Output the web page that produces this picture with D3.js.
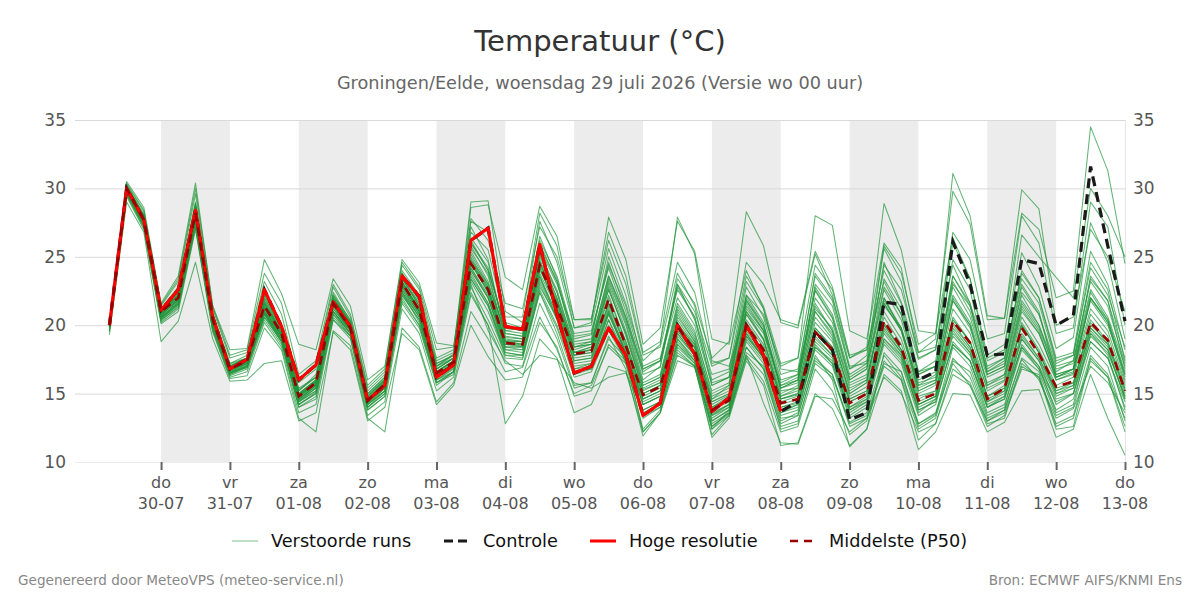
<!DOCTYPE html>
<html><head><meta charset="utf-8">
<script src="https://cdn.jsdelivr.net/npm/d3@7"></script>
<style>body{margin:0;background:#fff;} svg{display:block;font-family:"DejaVu Sans",sans-serif;}</style>
</head><body><svg id="chart" width="1200" height="600"></svg>
<script>
// ---------- DATA ----------
const firstStep = Date.UTC(2026, 6, 29, 6);   // 29-07 06 UTC, 6-hourly steps
const stepHours = 6;
const dayNames  = ["do","vr","za","zo","ma","di","wo","do","vr","za","zo","ma","di","wo","do"];
const dayDates  = ["30-07","31-07","01-08","02-08","03-08","04-08","05-08","06-08","07-08","08-08","09-08","10-08","11-08","12-08","13-08"];
const yTickValues = [10, 15, 20, 25, 30, 35];
const shadedDayIdx = [0, 2, 4, 6, 8, 10, 12];

const hres = [20.0,30.0,27.7, 21.1,22.6,28.4,20.6, 16.8,17.5,22.6,19.9, 16.0,17.1,21.7,19.9, 14.5,15.6,23.6,22.1,
  16.2,17.1,26.2,27.1, 19.9,19.7,25.9,20.8, 16.5,17.0,19.8,17.8, 13.4,14.3,20.0,17.9, 13.7,14.7,20.0,17.8, 13.7];

const controle = [20.0,30.0,27.7, 21.1,22.6,28.4,20.6, 16.8,17.5,22.6,19.9, 16.0,17.1,21.7,19.9, 14.5,15.6,23.6,22.1,
  16.2,17.1,26.2,27.1, 19.9,19.7,25.9,20.8, 16.5,17.0,19.8,17.8, 13.4,14.3,20.0,17.9, 13.7,14.7,20.0,17.8, 13.7,
  14.4,19.5,18.2, 13.1,13.6,21.7,21.5, 16.0,16.6,26.1,23.0, 17.8,17.9,24.8,24.5, 20.0,20.7,31.6,25.8, 20.3];

const p50 = [20.0,30.0,27.7, 21.0,22.0,28.2,20.4, 16.8,17.4,21.4,19.4, 14.8,15.8,21.6,19.8, 14.5,15.7,23.1,21.1,
  16.5,17.3,24.5,22.6, 18.7,18.6,24.4,21.4, 17.9,18.1,21.9,18.5, 14.9,15.5,19.9,18.2, 13.8,14.5,20.0,18.2,
  14.3,14.6,19.5,18.2, 14.3,15.0,20.3,18.4, 14.5,15.0,20.3,18.7, 14.6,15.4,19.8,17.9, 15.5,15.9,20.2,18.9, 15.2];

const ensembleRuns = [
 [20.0,30.2,28.0, 21.2,22.8,29.0,20.8, 17.2,17.8,22.5,20.1, 15.2,16.4,22.4,20.3, 15.0,16.2,23.8,21.8, 17.0,17.9,26.8,25.5, 20.2,19.8,26.5,23.4, 19.0,19.3,24.6,21.0, 16.4,16.9,23.0,20.4, 15.8,16.2,22.8,20.6, 16.0,16.4,22.5,20.5, 16.2,17.0,24.6,21.7, 17.5,18.2,26.0,23.4, 17.8,18.6,25.3,22.8, 18.3,19.1,27.5,24.6, 19.0],
 [19.7,29.6,27.2, 20.4,21.3,27.4,19.8, 16.3,16.8,20.4,18.6, 14.0,14.6,20.6,19.2, 13.8,14.8,21.6,19.8, 15.6,16.6,22.8,20.4, 17.6,17.5,22.4,19.8, 16.2,16.6,19.6,17.4, 13.6,14.2,18.6,17.2, 12.6,13.5,18.4,16.8, 12.8,13.4,17.6,16.4, 12.9,13.6,17.8,16.2, 12.8,13.5,17.2,15.6, 13.0,13.8,17.5,16.0, 13.2,13.9,17.0,15.8, 13.6],
 [20.1,30.1,27.9, 21.0,22.4,28.6,20.6, 16.9,17.5,21.8,19.6, 14.9,15.9,21.8,20.0, 14.6,15.9,23.5,21.4, 16.8,17.6,25.6,23.8, 19.1,19.0,25.2,22.0, 18.2,18.6,22.8,19.2, 15.3,15.8,20.6,18.8, 14.2,14.9,20.8,18.9, 14.8,15.2,20.2,18.8, 14.8,15.5,21.0,19.0, 15.0,15.6,21.2,19.4, 15.2,15.9,20.6,18.6, 16.0,16.5,21.2,19.6, 15.8],
 [19.5,29.4,27.0, 20.1,21.0,27.0,19.5, 16.1,16.3,19.8,18.2, 13.2,12.2,19.6,18.5, 13.2,12.2,19.8,18.4, 14.4,15.8,21.0,19.0, 16.6,16.9,20.6,18.2, 15.0,15.6,18.4,17.2, 12.4,13.8,17.8,17.0, 12.0,13.4,17.6,15.9, 12.2,12.6,16.8,15.2, 12.0,13.0,17.4,16.0, 11.6,12.8,16.4,15.6, 12.6,13.4,16.8,16.4, 12.6,13.2,17.4,16.2, 12.2],
 [20.2,30.3,28.3, 21.4,23.2,29.6,21.2, 17.6,18.0,23.2,20.8, 15.8,16.8,22.8,20.6, 15.4,16.6,24.4,22.6, 17.6,18.2,29.0,29.1, 21.0,20.2,23.6,20.4, 16.8,17.2,20.8,18.0, 14.2,14.8,19.6,18.0, 13.5,14.2,19.2,17.6, 14.0,14.3,18.4,17.4, 13.6,14.4,19.0,17.6, 13.8,14.4,18.6,17.4, 14.0,14.8,18.4,16.8, 14.4,15.0,18.8,17.6, 14.4],
 [19.9,29.8,27.5, 20.8,21.8,28.0,20.2, 16.7,17.3,21.0,19.0, 14.6,15.6,21.4,19.6, 14.4,15.4,22.8,20.8, 16.2,17.0,24.8,23.0, 19.6,19.8,27.6,24.6, 19.8,20.2,27.9,24.8, 18.6,19.8,27.6,25.4, 19.0,18.6,24.0,21.2, 16.8,16.6,21.6,19.6, 15.6,16.2,21.4,19.8, 15.8,16.2,22.8,20.6, 16.4,17.0,22.2,20.0, 16.8,17.2,22.6,20.6, 17.0],
 [20.0,29.9,27.6, 20.6,21.6,27.8,20.0, 16.5,17.0,20.8,18.8, 14.4,15.2,21.0,19.4, 14.2,15.2,22.4,20.2, 16.0,16.6,22.4,20.0, 12.8,14.8,19.0,17.6, 13.6,14.2,17.0,16.6, 12.2,13.6,17.4,16.9, 12.8,13.6,18.0,17.0, 13.0,13.6,18.6,17.2, 13.4,14.2,19.0,17.8, 13.6,14.6,19.4,18.0, 14.0,14.6,19.0,17.4, 14.2,15.0,19.8,18.4, 14.6],
 [20.1,30.0,27.8, 21.0,22.2,28.4,20.4, 16.8,17.4,21.6,19.4, 14.8,15.8,21.8,20.0, 14.6,15.8,23.0,21.2, 16.6,17.4,25.0,22.8, 18.8,18.6,24.6,21.6, 18.0,18.2,22.2,18.8, 15.0,15.6,20.4,18.6, 14.0,14.8,21.2,19.6, 15.4,16.0,23.0,21.4, 16.8,17.8,25.8,23.8, 18.6,19.4,29.8,27.4, 20.4,20.5,28.2,27.0, 22.0,22.5,34.5,31.3, 24.5],
 [19.8,29.7,27.4, 20.5,21.5,27.6,20.0, 16.6,17.1,21.2,19.2, 14.5,15.4,21.2,19.6, 14.3,15.4,22.6,20.6, 16.4,17.2,24.2,22.0, 18.4,18.4,23.8,21.2, 17.6,17.8,21.4,18.4, 14.6,15.2,19.8,18.4, 14.6,15.6,22.2,20.8, 17.0,17.6,28.0,27.3, 19.6,19.0,26.0,24.2, 18.0,18.4,24.4,21.6, 16.4,17.0,22.4,20.8, 16.6,17.4,23.4,21.8, 17.6],
 [20.0,30.0,27.6, 20.9,22.0,28.2,20.5, 16.9,17.4,21.4,19.4, 14.7,15.7,21.6,19.8, 14.6,15.6,23.2,21.0, 16.6,17.4,25.2,23.0, 19.4,19.2,26.0,23.2, 18.8,19.0,25.0,21.6, 17.4,18.6,27.9,25.2, 17.4,17.0,21.0,19.0, 14.6,15.0,19.8,18.4, 14.4,15.0,20.0,18.2, 14.2,14.8,19.6,18.0, 14.4,15.0,19.2,17.6, 15.0,15.4,19.6,18.2, 14.8],
 [19.9,29.9,27.7, 20.7,21.9,28.0,20.4, 16.7,17.2,21.0,19.2, 14.6,15.5,21.5,19.8, 14.4,15.6,22.9,21.0, 16.4,17.0,24.0,22.0, 18.2,18.2,24.0,21.8, 18.4,18.8,23.6,20.6, 16.0,17.0,23.4,21.6, 17.6,18.8,28.3,25.8, 20.2,19.8,25.2,22.2, 17.0,17.2,22.0,19.6, 15.2,15.8,20.4,18.8, 15.4,16.0,21.0,19.4, 16.2,16.8,21.8,20.0, 16.4],
 [19.6,29.5,27.1, 20.2,21.2,27.2,19.6, 16.2,16.6,20.2,18.4, 13.6,14.2,20.4,19.0, 13.4,14.4,21.2,19.4, 15.2,16.2,22.2,20.0, 17.2,17.0,21.6,19.0, 15.4,15.8,19.0,17.6, 12.2,13.6,18.0,17.0, 11.8,13.2,17.4,15.6, 11.2,11.4,15.0,13.9, 11.2,12.4,16.4,15.2, 10.9,12.2,15.0,14.9, 12.2,12.9,15.2,15.3, 11.8,12.4,16.4,13.2, 10.5],
 [20.0,30.1,28.0, 21.1,22.6,28.8,20.8, 17.0,17.6,22.0,19.8, 15.0,16.0,22.0,20.2, 14.8,16.0,23.6,21.6, 17.2,17.8,28.6,28.8, 23.5,22.6,28.7,26.5, 20.4,20.5,26.2,23.0, 17.8,18.4,23.8,21.4, 16.0,16.6,22.2,20.2, 15.2,15.4,21.0,19.4, 15.0,15.8,22.0,19.8, 15.4,16.0,21.8,20.0, 15.6,16.4,21.4,19.6, 16.0,16.4,22.0,20.2, 16.2],
 [19.9,29.8,27.5, 20.8,21.8,27.9,20.2, 16.6,17.2,21.1,19.2, 14.6,15.6,21.2,19.6, 14.2,15.4,22.8,20.8, 16.2,17.0,24.0,22.0, 18.4,18.2,23.6,20.8, 17.4,17.6,21.2,18.0, 14.6,15.2,19.2,17.8, 13.6,14.2,19.6,17.8, 14.0,14.4,19.0,17.8, 14.0,14.8,19.8,18.0, 14.2,14.8,19.8,18.2, 14.4,15.2,19.4,17.6, 15.2,15.6,19.8,18.6, 15.0],
 [20.2,30.4,28.4, 21.5,23.4,30.0,21.4, 17.8,18.2,23.8,21.6, 16.4,17.4,23.0,20.8, 15.6,16.8,24.6,22.8, 18.2,18.4,27.8,26.2, 21.6,21.2,27.2,25.0, 20.4,20.4,26.8,23.6, 18.0,18.8,24.6,22.4, 17.2,17.6,23.6,21.4, 17.2,17.6,24.4,22.6, 17.6,18.2,24.0,21.6, 16.6,17.0,23.2,21.0, 16.6,17.4,24.0,22.0, 17.6,18.0,25.4,23.0, 18.2],
 [19.8,29.7,27.3, 20.5,21.6,27.6,20.0, 16.4,17.0,20.6,18.8, 14.2,15.0,20.8,19.2, 14.0,15.0,22.0,20.0, 15.8,16.4,23.0,19.6, 17.4,16.4,17.8,17.5, 15.8,15.4,16.2,16.5, 13.8,14.4,18.8,17.4, 13.0,13.8,18.8,17.2, 13.4,13.8,18.2,17.0, 13.2,14.0,18.6,17.2, 13.4,14.2,18.8,17.4, 13.6,14.2,18.2,16.8, 13.8,14.6,18.8,17.6, 14.0],
 [20.3,30.5,28.6, 21.6,23.6,30.4,21.4, 18.2,18.3,24.8,22.3, 18.6,18.2,23.4,21.4, 16.0,17.0,24.8,23.1, 18.7,18.5,26.2,24.0, 20.0,19.6,25.6,23.0, 19.4,19.6,24.2,20.6, 16.8,17.4,22.0,20.0, 15.6,16.2,21.6,19.6, 15.6,16.0,21.2,19.8, 15.8,16.4,22.6,20.4, 16.0,16.6,22.2,20.2, 16.2,16.8,21.8,20.0, 16.4,16.8,22.4,20.4, 16.6],
 [19.3,29.0,26.8, 18.8,20.3,24.6,19.0, 15.9,16.0,17.2,17.4, 13.0,13.6,19.5,18.2, 13.0,14.0,19.4,18.2, 14.2,15.6,20.0,17.7, 16.0,16.2,20.2,18.4, 14.8,15.2,18.6,17.4, 13.2,14.0,18.2,17.0, 12.4,13.4,17.8,16.4, 12.6,13.0,17.2,16.2, 12.8,13.4,17.2,16.6, 12.8,13.6,17.6,16.2, 13.0,13.6,17.0,16.2, 12.8,13.4,17.8,16.4, 13.2],
 [20.0,30.0,27.9, 21.0,22.2,28.4,20.4, 16.8,17.4,21.6,19.6, 14.9,15.9,21.6,19.8, 14.6,15.8,23.4,21.4, 16.8,17.6,25.8,23.6, 19.0,18.8,24.4,21.4, 17.8,18.0,21.6,18.6, 14.8,15.4,20.0,18.6, 14.4,15.0,21.0,19.4, 15.0,15.6,22.8,20.8, 16.4,17.2,24.4,22.6, 18.0,19.0,31.1,28.0, 20.7,20.5,29.9,28.5, 20.0,20.6,27.0,25.0, 21.0],
 [20.1,30.2,28.1, 21.2,22.6,28.8,20.8, 17.2,17.6,22.4,20.0, 15.4,16.2,22.2,20.4, 15.2,16.4,24.0,22.2, 17.4,18.0,27.6,26.8, 20.6,20.6,28.2,25.8, 19.8,20.0,25.6,22.2, 17.0,17.6,22.8,20.6, 16.4,16.8,23.2,21.2, 16.4,16.8,23.6,21.8, 16.8,17.4,25.6,23.2, 17.6,18.2,26.8,24.8, 19.0,19.4,28.0,26.0, 19.4,19.8,29.0,27.2, 20.0],
 [19.7,29.6,27.3, 20.3,21.4,27.2,19.7, 16.4,16.9,20.6,18.8, 14.0,14.8,20.4,19.2, 13.8,14.8,21.8,20.0, 15.8,16.6,23.4,21.4, 17.8,17.6,22.8,20.6, 16.8,17.0,20.4,17.8, 14.2,14.8,19.0,17.6, 13.2,14.0,19.0,17.4, 13.6,14.0,18.4,17.2, 13.8,14.4,18.8,17.4, 13.8,14.4,18.6,17.4, 14.0,14.6,18.4,17.0, 14.6,15.0,19.2,18.0, 14.8],
 [20.0,30.0,27.8, 20.9,22.1,28.3,20.4, 16.8,17.3,21.4,19.4, 14.8,15.8,21.6,19.8, 14.5,15.6,23.0,21.0, 16.4,17.2,24.6,22.4, 18.6,18.6,24.8,22.0, 18.0,18.4,23.0,19.6, 15.6,16.2,21.4,19.4, 15.2,15.8,21.8,20.0, 15.8,16.4,23.8,22.0, 17.6,18.4,28.9,25.5, 19.6,19.4,26.4,23.4, 17.4,18.0,23.4,21.6, 17.2,17.8,24.2,22.2, 18.4],
 [19.9,29.9,27.6, 20.7,21.9,28.0,20.3, 16.7,17.2,21.2,19.3, 14.6,15.6,21.4,19.6, 14.4,15.6,23.0,21.0, 16.4,17.2,24.8,22.6, 18.6,18.4,24.2,21.2, 17.2,17.4,21.0,18.2, 14.2,14.8,19.4,17.8, 13.4,14.0,19.4,17.6, 13.2,13.4,17.8,16.0, 11.1,12.4,18.0,16.6, 12.6,13.4,18.4,17.0, 13.4,14.0,18.6,17.0, 13.6,14.2,19.4,17.8, 13.8],
 [20.1,30.1,27.9, 21.1,22.4,28.6,20.6, 17.0,17.5,21.8,19.8, 15.0,16.0,22.0,20.2, 14.8,16.0,23.4,21.6, 16.8,17.6,26.0,24.2, 19.6,19.4,25.8,23.2, 18.6,18.8,23.6,20.4, 16.6,17.4,23.0,21.0, 17.0,17.6,24.6,23.0, 20.4,20.0,25.4,22.8, 17.8,18.2,23.2,20.8, 16.4,17.0,23.0,21.4, 17.0,17.6,23.8,22.0, 17.4,17.8,24.6,22.6, 17.4],
 [19.8,29.7,27.4, 20.6,21.7,27.8,20.1, 16.5,17.1,20.9,19.0, 14.4,15.4,21.0,19.4, 14.2,15.2,22.2,20.4, 16.0,16.8,23.8,21.6, 18.0,17.8,23.0,20.4, 16.4,16.8,20.0,17.4, 13.4,14.0,18.4,17.2, 12.6,13.6,17.8,14.3, 11.4,11.3,14.8,14.6, 12.2,13.2,17.0,16.0, 12.4,13.2,17.4,16.6, 13.2,13.8,17.6,16.6, 13.4,14.0,18.4,17.0, 13.0],
 [20.0,30.1,27.9, 21.0,22.3,28.5,20.5, 16.9,17.5,21.7,19.6, 14.9,15.9,21.8,20.0, 14.7,15.9,23.2,21.2, 16.6,17.4,25.4,23.2, 18.8,18.8,24.6,21.8, 17.8,18.2,22.6,19.4, 15.2,15.8,20.8,18.8, 14.4,15.0,20.4,18.6, 14.6,15.0,20.6,19.0, 15.2,16.0,21.6,19.6, 15.6,16.4,23.6,21.6, 17.6,18.2,26.6,25.0, 23.5,22.0,30.0,28.0, 25.0],
 [19.8,29.6,27.2, 20.4,21.5,27.4,19.8, 16.5,16.9,20.8,18.8, 14.2,15.0,20.8,19.4, 14.0,15.0,22.2,20.4, 15.8,16.6,23.2,21.0, 17.8,17.8,22.6,20.0, 16.6,16.8,20.4,17.2, 13.8,14.4,18.6,17.4, 13.0,13.8,18.4,16.8, 12.4,12.8,17.4,16.4, 12.6,13.2,16.2,15.0, 12.2,12.8,16.8,15.8, 12.8,13.2,17.2,16.2, 12.4,12.6,17.6,16.2, 12.6],
 [20.1,30.2,28.0, 21.1,22.5,28.7,20.6, 17.0,17.6,22.2,19.8, 15.0,16.0,22.0,20.2, 14.9,16.1,23.8,21.8, 17.0,17.8,26.4,24.6, 19.4,19.2,25.2,22.6, 18.4,18.6,23.4,20.2, 15.8,16.4,21.6,19.6, 15.0,15.6,21.8,19.8, 15.4,16.0,22.0,20.2, 16.0,16.8,23.4,21.2, 16.6,17.4,24.8,22.6, 16.8,17.6,23.0,21.0, 16.2,16.8,23.6,21.8, 16.8],
 [19.9,29.8,27.5, 20.6,21.7,27.7,20.1, 16.6,17.0,20.9,19.0, 14.4,15.2,21.0,19.6, 14.2,15.2,22.4,20.6, 16.2,17.0,23.4,21.4, 18.0,17.8,22.4,19.4, 15.6,15.8,19.2,16.8, 11.9,13.6,19.0,17.4, 12.4,13.8,19.4,17.6, 13.6,14.2,19.2,17.8, 14.0,14.6,19.6,18.0, 14.2,14.8,20.0,18.4, 14.6,15.2,20.0,18.0, 15.0,15.6,20.4,18.8, 15.4],
 [20.0,30.0,27.8, 21.0,22.2,28.3,20.5, 16.9,17.5,21.6,19.6, 14.9,15.9,21.8,20.0, 14.6,15.8,23.2,21.2, 16.6,17.4,24.6,22.8, 18.8,18.6,24.6,21.6, 18.0,18.2,22.0,18.8, 15.0,15.6,20.2,18.4, 14.0,14.6,20.2,18.4, 14.6,14.9,19.8,18.4, 14.6,15.2,20.6,18.6, 14.8,15.2,20.6,18.8, 14.8,15.6,20.2,18.2, 15.6,16.2,20.8,19.2, 15.6],
 [20.1,30.1,27.8, 21.0,22.4,28.4,20.5, 17.0,17.6,22.0,19.8, 15.2,16.2,22.0,20.0, 14.8,16.0,23.4,21.4, 17.0,17.6,27.2,24.8, 19.2,19.0,25.4,22.4, 18.0,18.4,23.2,20.0, 15.6,16.2,21.2,19.2, 14.6,15.2,20.8,19.0, 14.8,15.4,21.0,19.2, 15.0,15.8,21.6,19.6, 15.2,15.8,21.8,19.8, 15.6,16.2,21.2,19.4, 16.2,16.6,22.0,20.2, 16.0],
 [19.9,29.9,27.6, 20.8,21.9,28.1,20.3, 16.7,17.2,21.0,19.2, 14.5,15.4,21.4,19.6, 14.3,15.5,22.6,20.8, 16.3,17.2,24.2,22.2, 18.4,18.4,23.4,20.8, 17.4,17.6,21.0,17.8, 14.4,15.0,19.4,17.8, 13.4,14.2,19.2,17.6, 13.8,14.2,18.8,17.6, 13.8,14.6,19.4,17.8, 14.0,14.6,19.2,17.8, 14.2,14.8,19.0,17.4, 14.8,15.4,19.4,18.2, 14.6],
 [20.0,30.0,27.7, 20.9,22.0,28.2,20.4, 16.8,17.3,21.5,19.5, 14.8,15.7,21.6,19.8, 14.5,15.6,23.1,21.1, 16.5,17.3,24.4,22.6, 18.9,18.8,25.0,22.4, 18.4,18.6,22.6,19.4, 15.4,16.0,21.0,19.0, 14.8,15.4,21.4,19.6, 15.6,16.2,22.6,20.6, 16.0,16.8,22.8,20.8, 16.4,17.0,23.6,21.4, 16.6,17.2,22.8,20.8, 17.0,17.4,23.2,21.4, 17.2],
 [19.7,29.7,27.4, 20.5,21.6,27.8,20.1, 16.5,17.0,20.8,19.0, 14.2,15.1,21.0,19.4, 14.0,15.2,22.4,20.6, 16.0,16.9,23.6,21.6, 18.2,18.0,23.2,20.6, 17.0,17.2,20.8,18.0, 14.6,15.2,19.6,18.0, 13.8,14.4,19.8,18.0, 14.2,14.6,19.6,18.0, 14.4,15.0,20.0,18.2, 14.4,15.0,20.2,18.4, 14.8,15.4,20.0,18.0, 15.2,15.8,20.2,18.6, 15.2],
 [20.1,30.2,28.0, 21.2,22.7,28.9,20.7, 17.1,17.6,22.2,20.0, 15.3,16.2,22.2,20.2, 15.0,16.2,23.8,21.8, 17.2,17.8,26.0,24.0, 19.8,19.6,26.2,23.6, 19.2,19.4,24.4,21.4, 16.8,17.4,22.6,20.6, 15.6,16.2,22.0,20.0, 15.4,15.8,21.4,19.6, 15.4,16.0,21.8,19.8, 15.6,16.0,22.0,20.0, 15.8,16.4,21.6,19.8, 16.4,16.8,22.0,20.4, 16.4],
 [20.0,30.0,27.6, 20.9,22.1,28.1,20.3, 16.8,17.3,21.3,19.3, 14.7,15.8,21.5,19.7, 14.5,15.6,23.0,21.0, 16.4,17.2,24.6,22.4, 18.6,18.5,24.2,21.2, 17.8,18.0,21.6,18.4, 15.0,15.6,20.0,18.3, 13.9,14.6,19.8,18.0, 14.4,14.8,19.6,18.2, 14.6,15.2,20.2,18.2, 14.6,15.2,20.4,18.8, 14.8,15.4,20.0,18.0, 15.4,15.8,20.0,18.8, 15.3]
];

const legendLabels = ["Verstoorde runs", "Controle", "Hoge resolutie", "Middelste (P50)"];

// ---------- CHART ----------
const svg = d3.select("#chart");
const W = 1200, H = 600;
const mLeft = 75, mRight = 1125, mTop = 120, mBottom = 462;

const stepTime = i => new Date(firstStep + i * stepHours * 3600e3);
const x = d3.scaleUtc()
  .domain([new Date(Date.UTC(2026, 6, 28, 18)), new Date(Date.UTC(2026, 7, 13, 0))])
  .range([mLeft, mRight]);
const y = d3.scaleLinear().domain([10, 35]).range([mBottom, mTop]);
const dayTicks = dayDates.map((d, k) => new Date(Date.UTC(2026, 6, 30 + k)));

svg.append("rect").attr("width", W).attr("height", H).attr("fill", "#fff");

// shaded alternate days
svg.append("g").selectAll("rect").data(shadedDayIdx).join("rect")
  .attr("x", k => x(dayTicks[k]))
  .attr("y", y(35))
  .attr("width", k => x(new Date(Date.UTC(2026, 6, 31 + k))) - x(dayTicks[k]))
  .attr("height", y(10) - y(35))
  .attr("fill", "#ececec");

// grid
svg.append("g").selectAll("line").data(yTickValues).join("line")
  .attr("x1", mLeft).attr("x2", mRight)
  .attr("y1", d => y(d) + 0.5).attr("y2", d => y(d) + 0.5)
  .attr("stroke", d => d === 10 ? "#ececec" : "#d9d9d9").attr("stroke-width", 1);
svg.append("line").attr("x1", mRight + 0.5).attr("x2", mRight + 0.5).attr("y1", y(35)).attr("y2", y(10))
  .attr("stroke", "#e6e6e6");

// y axes labels
const yl = d3.axisLeft(y).tickValues(yTickValues).tickSize(0).tickPadding(9);
const gL = svg.append("g").attr("transform", `translate(${mLeft},0)`).call(yl);
const yr = d3.axisRight(y).tickValues(yTickValues).tickSize(0).tickPadding(8);
const gR = svg.append("g").attr("transform", `translate(${mRight},0)`).call(yr);
[gL, gR].forEach(g => {
  g.select(".domain").remove();
  g.selectAll("text").attr("font-size", 17).attr("fill", "#555").attr("font-family", "DejaVu Sans");
});

// x axis
const xa = d3.axisBottom(x).tickValues(dayTicks).tickSize(8).tickFormat(() => "");
const gX = svg.append("g").attr("transform", `translate(0,${mBottom})`).call(xa);
gX.select(".domain").remove();
gX.selectAll("line").attr("stroke", "#666").attr("stroke-width", 2);
const tickLabels = svg.append("g").selectAll("g").data(dayTicks).join("g")
  .attr("transform", d => `translate(${x(d)},0)`);
tickLabels.append("text").attr("y", 488).attr("text-anchor", "middle")
  .attr("font-size", 16).attr("fill", "#555").text((d, k) => dayNames[k]);
tickLabels.append("text").attr("y", 509).attr("text-anchor", "middle")
  .attr("font-size", 16).attr("fill", "#555").text((d, k) => dayDates[k]);

// lines
const line = d3.line().x((d, i) => x(stepTime(i))).y(d => y(d));
const plot = svg.append("g");
plot.selectAll("path.ens").data(ensembleRuns).join("path").attr("class", "ens")
  .attr("d", line).attr("fill", "none").attr("stroke", "#22963c")
  .attr("stroke-opacity", 0.7).attr("stroke-width", 1.05).attr("stroke-linejoin", "round");
plot.append("path").attr("d", line(controle)).attr("fill", "none")
  .attr("stroke", "#1a1a1a").attr("stroke-width", 3.2).attr("stroke-dasharray", "10,6");
plot.append("path").attr("d", line(hres)).attr("fill", "none")
  .attr("stroke", "#ff0000").attr("stroke-width", 3.2).attr("stroke-linejoin", "round");
plot.append("path").attr("d", line(p50)).attr("fill", "none")
  .attr("stroke", "#990000").attr("stroke-width", 2.6).attr("stroke-dasharray", "9,6");

// titles
svg.append("text").attr("x", 600).attr("y", 51).attr("text-anchor", "middle")
  .attr("font-size", 29).attr("fill", "#333").text("Temperatuur (°C)");
svg.append("text").attr("x", 600).attr("y", 89).attr("text-anchor", "middle")
  .attr("font-size", 17.7).attr("fill", "#666").text("Groningen/Eelde, woensdag 29 juli 2026 (Versie wo 00 uur)");

// legend
const legendItems = [
  {x: 232, stroke: "#22963c", op: 0.6, w: 1, dash: null},
  {x: 444, stroke: "#1a1a1a", op: 1, w: 3, dash: "9,5"},
  {x: 590, stroke: "#ff0000", op: 1, w: 3, dash: null},
  {x: 790, stroke: "#990000", op: 1, w: 2.6, dash: "8,6"}
];
const lg = svg.append("g").selectAll("g").data(legendItems).join("g");
lg.append("line").attr("x1", d => d.x).attr("x2", d => d.x + 26).attr("y1", 541).attr("y2", 541)
  .attr("stroke", d => d.stroke).attr("stroke-opacity", d => d.op).attr("stroke-width", d => d.w)
  .attr("stroke-dasharray", d => d.dash);
lg.append("text").attr("x", d => d.x + 39).attr("y", 547).attr("font-size", 17.7).attr("fill", "#111")
  .text((d, i) => legendLabels[i]);

// footer
svg.append("text").attr("x", 18).attr("y", 585).attr("font-size", 13.6).attr("fill", "#888")
  .text("Gegenereerd door MeteoVPS (meteo-service.nl)");
svg.append("text").attr("x", 1182).attr("y", 585).attr("text-anchor", "end").attr("font-size", 13.6).attr("fill", "#888")
  .text("Bron: ECMWF AIFS/KNMI Ens");
</script></body></html>
